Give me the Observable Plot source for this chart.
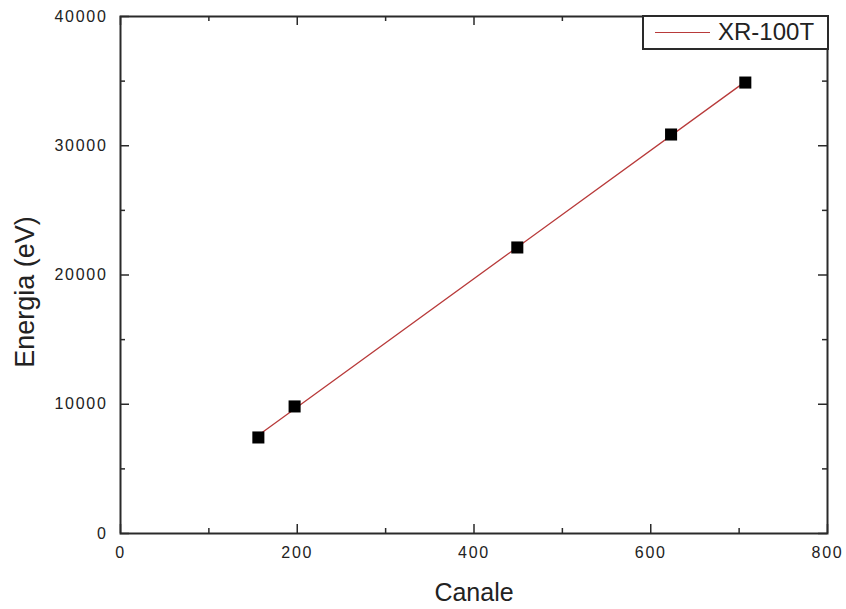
<!DOCTYPE html>
<html>
<head>
<meta charset="utf-8">
<script src="https://cdn.jsdelivr.net/npm/d3@7"></script>
<script src="https://cdn.jsdelivr.net/npm/@observablehq/plot@0.6"></script>
<style>
  html, body { margin: 0; padding: 0; background: #fff; }
  #wrap { position: relative; width: 846px; height: 609px; font-family: "Liberation Sans", Arial, sans-serif; }
  #legend { position: absolute; left: 642px; top: 15px; width: 183px; height: 31px; border: 2px solid #2a2a2a; background: #fff; box-sizing: content-box; }
  #legend .ln { position: absolute; left: 11px; top: 15px; width: 55px; height: 0; border-top: 1.3px solid #b83a3a; }
  #legend .tx { position: absolute; left: 74px; top: 1px; font-size: 24px; color: #222; line-height: 28px; }
</style>
</head>
<body>
<div id="wrap"><div id="chart"></div>
<div id="legend"><div class="ln"></div><div class="tx">XR-100T</div></div>
</div>
<script>
// Data
const channels = [156, 197, 449, 623, 707];
const energies = [7430, 9830, 22130, 30870, 34890];
const seriesName = "XR-100T";
const xTicks = [0, 200, 400, 600, 800];
const xMinor = [100, 300, 500, 700];
const yTicks = [0, 10000, 20000, 30000, 40000];
const yMinor = [5000, 15000, 25000, 35000];

const data = channels.map((c, i) => ({canale: c, energia: energies[i]}));
const axisColor = "#2a2a2a";

const chart = Plot.plot({
  width: 846,
  height: 609,
  marginLeft: 120,
  marginRight: 19,
  marginTop: 16,
  marginBottom: 76,
  style: {fontFamily: "'Liberation Sans', Arial, sans-serif", background: "#fff", color: "#222"},
  x: {domain: [0, 800]},
  y: {domain: [0, 40000]},
  marks: [
    Plot.frame({stroke: axisColor, strokeWidth: 2}),
    // inward ticks bottom/top
    Plot.ruleX(xTicks, {x: d => d, y1: 0, y2: 0, insetTop: -9, stroke: axisColor, strokeWidth: 1.5}),
    Plot.ruleX(xMinor, {x: d => d, y1: 0, y2: 0, insetTop: -5, stroke: axisColor, strokeWidth: 1.5}),
    Plot.ruleX(xTicks, {x: d => d, y1: 40000, y2: 40000, insetBottom: -9, stroke: axisColor, strokeWidth: 1.5}),
    Plot.ruleX(xMinor, {x: d => d, y1: 40000, y2: 40000, insetBottom: -5, stroke: axisColor, strokeWidth: 1.5}),
    // inward ticks left/right
    Plot.ruleY(yTicks, {y: d => d, x1: 0, x2: 0, insetRight: -9, stroke: axisColor, strokeWidth: 1.5}),
    Plot.ruleY(yMinor, {y: d => d, x1: 0, x2: 0, insetRight: -5, stroke: axisColor, strokeWidth: 1.5}),
    Plot.ruleY(yTicks, {y: d => d, x1: 800, x2: 800, insetLeft: -9, stroke: axisColor, strokeWidth: 1.5}),
    Plot.ruleY(yMinor, {y: d => d, x1: 800, x2: 800, insetLeft: -5, stroke: axisColor, strokeWidth: 1.5}),
    Plot.axisX(xTicks, {tickSize: 0, tickPadding: 13, fontSize: 16, label: null, tickFormat: d => String(d)}),
    Plot.axisY(yTicks, {tickSize: 0, tickPadding: 13, fontSize: 16, label: null, tickFormat: d => String(d)}),
    Plot.text(["Canale"], {frameAnchor: "bottom", textAnchor: "middle", lineAnchor: "middle", dy: 59, fontSize: 25, fill: "#222"}),
    Plot.text(["Energia (eV)"], {frameAnchor: "left", textAnchor: "middle", lineAnchor: "middle", dx: -95, dy: 17, rotate: -90, fontSize: 27, fill: "#222"}),
    Plot.linearRegressionY(data, {x: "canale", y: "energia", stroke: "#b83a3a", strokeWidth: 1.3, ci: 0}),
    Plot.dot(data, {x: "canale", y: "energia", symbol: "square", r: 6.8, fill: "#000", stroke: null})
  ]
});
d3.select(chart).selectAll("text")
  .filter(function() { return /^\d+$/.test(this.textContent.trim()); })
  .style("letter-spacing", "1.7px");
document.getElementById("chart").appendChild(chart);
</script>
</body>
</html>
